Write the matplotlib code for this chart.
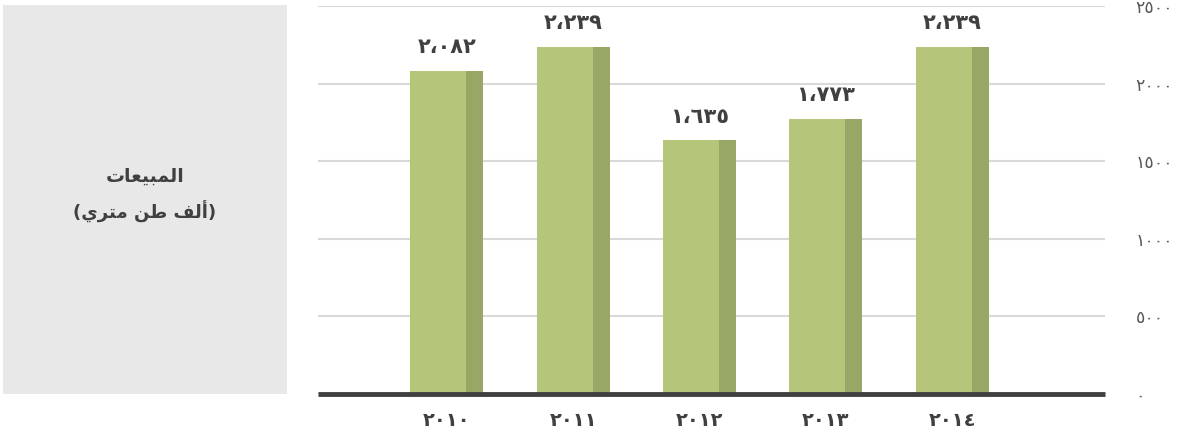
import matplotlib.pyplot as plt
from matplotlib.patches import Rectangle

# data
years = ['٢٠١٠', '٢٠١١', '٢٠١٢', '٢٠١٣', '٢٠١٤']
sales = [2082, 2239, 1635, 1773, 2239]
sales_labels = ['٢،٠٨٢', '٢،٢٣٩', '١،٦٣٥', '١،٧٧٣', '٢،٢٣٩']
y_ticks = [0, 500, 1000, 1500, 2000, 2500]
y_tick_labels = ['٠', '٥٠٠', '١٠٠٠', '١٥٠٠', '٢٠٠٠', '٢٥٠٠']

# Arabic title, written in shaped presentation forms, visual order
title_1 = '\uFE95\uFE8E\uFECC\uFEF4\uFE92\uFEE4\uFEDF\uFE8D'
title_2 = '(\uFEF1\uFEAE\uFE98\uFEE3 \uFEE6\uFEC3 \uFED2\uFEDF\uFE83)'

light = '#B5C67A'
dark = '#97A866'
text_col = '#404040'

W, H = 1180, 432
fig = plt.figure(figsize=(W / 100, H / 100), dpi=100)

# grey label box on the left
fig.patches.append(Rectangle((3 / W, 1 - 394 / H), 284 / W, 389 / H,
                             transform=fig.transFigure, facecolor='#E8E8E8',
                             edgecolor='none', zorder=0))
fig.text(145 / W, 1 - 176 / H, title_1, ha='center', va='center',
         fontsize=13.5, fontweight='bold', color=text_col)
fig.text(145 / W, 1 - 212 / H, title_2, ha='center', va='center',
         fontsize=13, fontweight='bold', color=text_col)

ax = fig.add_axes([318 / W, 1 - 394 / H, 787 / W, 388 / H])
x = list(range(len(years)))

ax.bar([i - 0.29 for i in x], sales, width=0.445, align='edge',
       color=light, zorder=3)
ax.bar([i + 0.155 for i in x], sales, width=0.135, align='edge',
       color=dark, zorder=3)

for i, v in enumerate(sales):
    ax.annotate(sales_labels[i], (i, v), xytext=(0, 17), textcoords='offset points',
                ha='center', va='center', fontsize=15, fontweight='bold',
                color=text_col)

ax.set_xlim(-1.02, 5.21)
ax.set_ylim(0, 2500)
ax.set_xticks(x)
ax.set_xticklabels(years, fontsize=14, fontweight='bold', color=text_col)
ax.set_yticks(y_ticks)
ax.set_yticklabels(y_tick_labels, fontsize=12.5, color='#595959')
ax.yaxis.tick_right()
ax.tick_params(axis='y', length=0, pad=22)
ax.tick_params(axis='x', length=0, pad=12)

ax.grid(axis='y', color='#D9D9D9', linewidth=1.5, zorder=0)
ax.axhline(0, color=text_col, linewidth=3.5, zorder=4, clip_on=False,
           solid_capstyle='butt')
for s in ax.spines.values():
    s.set_visible(False)

fig.savefig('out.png', dpi=100)
